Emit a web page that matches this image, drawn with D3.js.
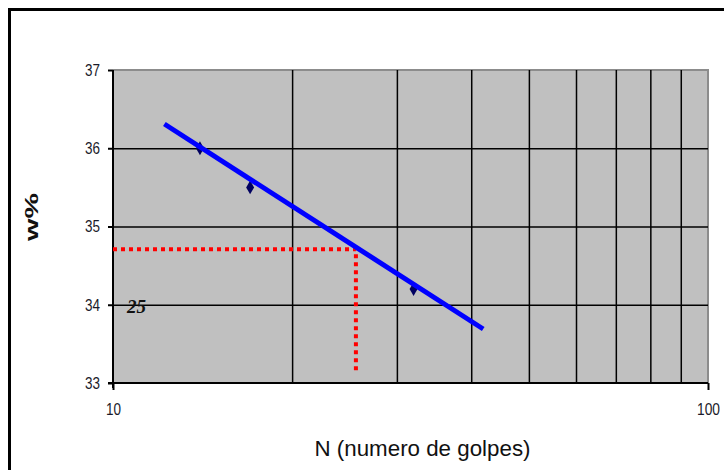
<!DOCTYPE html>
<html>
<head>
<meta charset="utf-8">
<script src="https://cdn.jsdelivr.net/npm/d3@7"></script>
<style>
  html, body { margin: 0; padding: 0; background: #fff; overflow: hidden; }
  svg { display: block; }
</style>
</head>
<body>
<svg id="chart"></svg>
<script>
// datos
const golpes = [14, 17, 32];          // N
const humedad = [36.0, 35.5, 34.2];   // w%
const trendN = [12.2, 41.9];          // recta de ajuste (extremos)
const trendW = [36.31, 33.69];
const limiteN = 25.6;                 // lectura a 25 golpes
const limiteW = 34.71;
const limiteBase = 33.14;
const yTicks = [33, 34, 35, 36, 37];
const xTicks = [10, 100];
const xGrid = [20, 30, 40, 50, 60, 70, 80, 90];

const width = 724, height = 470;
const plot = { left: 113, right: 708, top: 70, bottom: 383 };

const svg = d3.select('#chart')
  .attr('width', width)
  .attr('height', height);

// marco exterior
svg.append('rect')
  .attr('x', 9.5).attr('y', 9.5)
  .attr('width', 740).attr('height', 490)
  .attr('fill', '#fff')
  .attr('stroke', '#000')
  .attr('stroke-width', 3);

const x = d3.scaleLog().domain([10, 100]).range([plot.left, plot.right]);
const y = d3.scaleLinear().domain([33, 37]).range([plot.bottom, plot.top]);

// fondo gris
svg.append('rect')
  .attr('x', plot.left).attr('y', plot.top)
  .attr('width', plot.right - plot.left)
  .attr('height', plot.bottom - plot.top)
  .attr('fill', '#c0c0c0');

// borde superior y derecho gris
svg.append('path')
  .attr('d', `M${plot.left},${plot.top}H${plot.right}V${plot.bottom}`)
  .attr('fill', 'none')
  .attr('stroke', '#8c8c8c')
  .attr('stroke-width', 2);

// rejilla
const gridY = svg.append('g')
  .attr('transform', `translate(${plot.left},0)`)
  .call(d3.axisLeft(y).tickValues([34, 35, 36]).tickSize(-(plot.right - plot.left)).tickFormat(''));
gridY.select('.domain').remove();
gridY.selectAll('line').attr('stroke', '#000').attr('stroke-width', 1.5);

const gridX = svg.append('g')
  .attr('transform', `translate(0,${plot.bottom})`)
  .call(d3.axisBottom(x).tickValues(xGrid).tickSize(-(plot.bottom - plot.top)).tickFormat(''));
gridX.select('.domain').remove();
gridX.selectAll('line').attr('stroke', '#000').attr('stroke-width', 1.5);

// ejes
const yAxis = svg.append('g')
  .attr('transform', `translate(${plot.left},0)`)
  .call(d3.axisLeft(y).tickValues(yTicks).tickSize(5).tickPadding(8).tickFormat(d3.format('d')));
yAxis.select('.domain')
  .attr('d', `M0,${plot.top}V${plot.bottom + 5}`)
  .attr('stroke', '#000').attr('stroke-width', 2);
yAxis.selectAll('line').attr('stroke', '#000').attr('stroke-width', 2);
yAxis.selectAll('text')
  .attr('font-family', '"Liberation Sans", Arial, sans-serif')
  .attr('font-size', 17)
  .attr('fill', '#1a1a2a')
  .attr('textLength', 15)
  .attr('lengthAdjust', 'spacingAndGlyphs');

const xAxis = svg.append('g')
  .attr('transform', `translate(0,${plot.bottom})`)
  .call(d3.axisBottom(x).tickValues(xTicks).tickSize(7).tickPadding(14).tickFormat(d3.format('d')));
xAxis.select('.domain')
  .attr('d', `M${plot.left - 5},0H${plot.right}`)
  .attr('stroke', '#000').attr('stroke-width', 2);
xAxis.selectAll('line').attr('stroke', '#000').attr('stroke-width', 2);
xAxis.selectAll('text')
  .attr('font-family', '"Liberation Sans", Arial, sans-serif')
  .attr('font-size', 16)
  .attr('fill', '#1a1a2a')
  .attr('textLength', d => d === 100 ? 23 : 15)
  .attr('lengthAdjust', 'spacingAndGlyphs');

// linea roja de lectura
const rojo = d3.line().x(d => x(d[0])).y(d => y(d[1]));
svg.append('path')
  .attr('d', rojo([[10, limiteW], [limiteN, limiteW], [limiteN, limiteBase]]))
  .attr('fill', 'none')
  .attr('stroke', '#ff0000')
  .attr('stroke-width', 4)
  .attr('stroke-dasharray', '4,4');

// texto 25
svg.append('text')
  .attr('x', x(10) + 14)
  .attr('y', y(34) + 8)
  .attr('font-family', '"Liberation Serif", "Times New Roman", serif')
  .attr('font-style', 'italic')
  .attr('font-weight', 'bold')
  .attr('font-size', 19)
  .attr('fill', '#111')
  .text('25');

// puntos
svg.selectAll('path.punto')
  .data(golpes)
  .enter()
  .append('path')
  .attr('class', 'punto')
  .attr('transform', (d, i) => `translate(${x(d)},${y(humedad[i])})`)
  .attr('d', d3.symbol(d3.symbolDiamond, 55))
  .attr('fill', '#000060');

// recta de ajuste
svg.append('path')
  .attr('d', d3.line().x(d => x(d)).y((d, i) => y(trendW[i]))(trendN))
  .attr('fill', 'none')
  .attr('stroke', '#0000ff')
  .attr('stroke-width', 5);

// titulos
svg.append('text')
  .attr('x', (plot.left + plot.right) / 2 + 12)
  .attr('y', 456)
  .attr('text-anchor', 'middle')
  .attr('font-family', '"Liberation Sans", Arial, sans-serif')
  .attr('font-size', 22)
  .attr('fill', '#111')
  .attr('textLength', 216)
  .attr('lengthAdjust', 'spacingAndGlyphs')
  .text('N (numero de golpes)');

svg.append('text')
  .attr('transform', 'translate(38,217) rotate(-90)')
  .attr('text-anchor', 'middle')
  .attr('font-family', '"Liberation Sans", Arial, sans-serif')
  .attr('font-weight', 'bold')
  .attr('font-size', 19)
  .attr('fill', '#111')
  .attr('textLength', 48)
  .attr('lengthAdjust', 'spacingAndGlyphs')
  .text('w%');
</script>
</body>
</html>
